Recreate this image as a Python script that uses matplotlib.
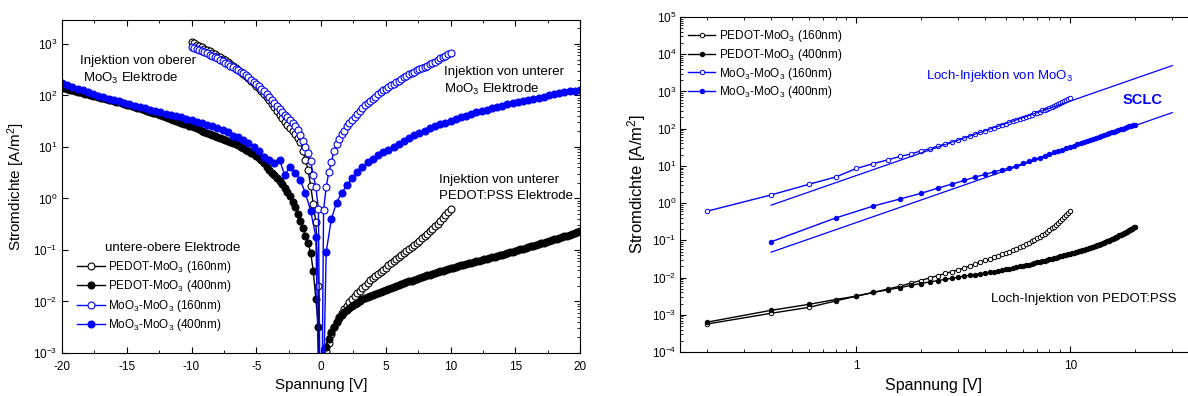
import numpy as np
import matplotlib
matplotlib.use("Agg")
import matplotlib.pyplot as plt
from matplotlib.ticker import LogLocator, NullFormatter, FormatStrFormatter, MultipleLocator

plt.rcParams['font.family'] = ['Liberation Sans', 'DejaVu Sans']
plt.rcParams['mathtext.fontset'] = 'custom'
plt.rcParams['mathtext.rm'] = 'Liberation Sans'
plt.rcParams['mathtext.it'] = 'Liberation Sans:italic'
plt.rcParams['mathtext.bf'] = 'Liberation Sans:bold'
plt.rcParams['mathtext.default'] = 'regular'
plt.rcParams['axes.unicode_minus'] = False

BLUE = '#0000ff'

# voltage sweeps [V]; 160nm devices +-10 V in 0.2 V steps,
# PEDOT 400nm +-20 V in 0.2 V, MoO3 400nm +-20 V in 0.4 V
v_pedot160 = np.linspace(-10, 10, 101)
v_pedot400 = np.linspace(-20, 20, 201)
v_moo160 = np.linspace(-10, 10, 101)
v_moo400 = np.linspace(-20, 20, 101)

# log10 of current density [A/m^2]; value at 0 V is below the plotted range
zero_log = -6.0

pedot160_neg = [3.04, 3.02, 2.99, 2.96, 2.94, 2.91, 2.88, 2.86, 2.83, 2.80,
                2.77, 2.74, 2.71, 2.68, 2.645, 2.61, 2.575, 2.54, 2.50, 2.46,
                2.42, 2.38, 2.34, 2.29, 2.24, 2.19, 2.14, 2.09, 2.03, 1.97,
                1.91, 1.84, 1.77, 1.70, 1.63, 1.56, 1.49, 1.43, 1.37, 1.31,
                1.25, 1.18, 1.10, 0.92, 0.75, 0.55, 0.25, -0.10, -0.45, -1.70]
pedot160_pos = [-3.25, -2.96, -2.80, -2.63, -2.50, -2.40, -2.31, -2.23, -2.15, -2.08,
                -2.01, -1.95, -1.89, -1.84, -1.79, -1.74, -1.69, -1.64, -1.59, -1.54,
                -1.50, -1.46, -1.42, -1.38, -1.34, -1.30, -1.26, -1.22, -1.18, -1.14,
                -1.10, -1.06, -1.02, -0.98, -0.94, -0.90, -0.86, -0.82, -0.77, -0.73,
                -0.68, -0.64, -0.59, -0.54, -0.49, -0.44, -0.38, -0.32, -0.26, -0.20]

pedot400_neg = [2.150, 2.138, 2.126, 2.113, 2.100, 2.088, 2.076, 2.063, 2.050, 2.038,
                2.025, 2.012, 1.999, 1.986, 1.973, 1.960, 1.947, 1.934, 1.920, 1.907,
                1.893, 1.879, 1.865, 1.851, 1.837, 1.822, 1.808, 1.793, 1.778, 1.763,
                1.748, 1.733, 1.717, 1.701, 1.685, 1.669, 1.653, 1.636, 1.619, 1.602,
                1.585, 1.567, 1.549, 1.531, 1.513, 1.494, 1.475, 1.456, 1.437, 1.417,
                1.40, 1.38, 1.36, 1.34, 1.32, 1.30, 1.28, 1.26, 1.24, 1.22,
                1.20, 1.18, 1.16, 1.14, 1.12, 1.10, 1.08, 1.055, 1.03, 1.005,
                0.98, 0.95, 0.92, 0.89, 0.86, 0.82, 0.78, 0.74, 0.68, 0.62,
                0.55, 0.50, 0.45, 0.40, 0.34, 0.28, 0.21, 0.13, 0.04, -0.06,
                -0.17, -0.30, -0.43, -0.58, -0.72, -0.86, -1.05, -1.40, -1.95, -2.50]
pedot400_pos = [-3.20, -2.88, -2.72, -2.59, -2.50, -2.40, -2.33, -2.27, -2.21, -2.16,
                -2.12, -2.08, -2.05, -2.02, -1.99, -1.96, -1.94, -1.92, -1.90, -1.88,
                -1.86, -1.84, -1.82, -1.80, -1.78, -1.76, -1.74, -1.72, -1.70, -1.68,
                -1.665, -1.65, -1.63, -1.61, -1.595, -1.58, -1.56, -1.545, -1.53, -1.51,
                -1.495, -1.48, -1.465, -1.45, -1.43, -1.415, -1.40, -1.385, -1.37, -1.355,
                -1.34, -1.33, -1.315, -1.30, -1.29, -1.275, -1.26, -1.25, -1.235, -1.22,
                -1.21, -1.195, -1.18, -1.17, -1.155, -1.14, -1.13, -1.115, -1.10, -1.09,
                -1.075, -1.06, -1.045, -1.03, -1.02, -1.005, -0.99, -0.975, -0.96, -0.945,
                -0.93, -0.915, -0.90, -0.885, -0.87, -0.855, -0.84, -0.825, -0.81, -0.795,
                -0.78, -0.765, -0.75, -0.735, -0.72, -0.705, -0.69, -0.67, -0.65, -0.63]

moo160_neg = [2.95, 2.93, 2.91, 2.89, 2.865, 2.845, 2.82, 2.795, 2.77, 2.745,
              2.72, 2.69, 2.665, 2.64, 2.61, 2.58, 2.55, 2.52, 2.49, 2.46,
              2.43, 2.39, 2.35, 2.31, 2.27, 2.23, 2.18, 2.13, 2.08, 2.03,
              1.98, 1.92, 1.86, 1.80, 1.73, 1.68, 1.63, 1.58, 1.53, 1.47,
              1.41, 1.33, 1.23, 1.12, 1.00, 0.88, 0.72, 0.46, 0.22, -0.20]
moo160_pos = [-0.22, 0.22, 0.505, 0.70, 0.93, 1.06, 1.16, 1.255, 1.32, 1.40,
              1.46, 1.53, 1.59, 1.64, 1.70, 1.756, 1.806, 1.85, 1.90, 1.94,
              1.98, 2.02, 2.06, 2.10, 2.13, 2.17, 2.20, 2.23, 2.265, 2.29,
              2.32, 2.35, 2.38, 2.41, 2.43, 2.46, 2.49, 2.51, 2.535, 2.56,
              2.58, 2.61, 2.63, 2.66, 2.69, 2.72, 2.74, 2.77, 2.80, 2.83]

moo400_neg = [2.24, 2.205, 2.17, 2.135, 2.10, 2.065, 2.03, 1.995, 1.965, 1.94,
              1.91, 1.885, 1.86, 1.83, 1.805, 1.78, 1.75, 1.725, 1.70, 1.675,
              1.65, 1.625, 1.60, 1.575, 1.55, 1.52, 1.49, 1.46, 1.43, 1.40,
              1.365, 1.33, 1.29, 1.22, 1.20, 1.13, 1.07, 1.00, 0.92, 0.81,
              0.74, 0.69, 0.75, 0.45, 0.62, 0.50, 0.36, 0.10, -0.24, -0.74]
moo400_pos = [-1.04, -0.40, -0.08, 0.11, 0.26, 0.40, 0.51, 0.61, 0.70, 0.77,
              0.84, 0.895, 0.945, 1.00, 1.065, 1.12, 1.175, 1.225, 1.27, 1.315,
              1.36, 1.40, 1.44, 1.475, 1.51, 1.545, 1.58, 1.61, 1.64, 1.67,
              1.70, 1.725, 1.75, 1.78, 1.805, 1.83, 1.85, 1.875, 1.90, 1.92,
              1.94, 1.96, 1.98, 2.00, 2.02, 2.04, 2.06, 2.08, 2.095, 2.11]

# SCLC fits (J ~ V^2), end points
fit_v = [0.4, 30.0]
fit_high = [0.88, 4950.0]
fit_low = [0.048, 270.0]

labels = ['PEDOT-MoO$_3$ (160nm)', 'PEDOT-MoO$_3$ (400nm)',
          'MoO$_3$-MoO$_3$ (160nm)', 'MoO$_3$-MoO$_3$ (400nm)']

series = [
    (v_pedot160, pedot160_neg + [zero_log] + pedot160_pos, 'k', 'white'),
    (v_pedot400, pedot400_neg + [zero_log] + pedot400_pos, 'k', 'k'),
    (v_moo160, moo160_neg + [zero_log] + moo160_pos, BLUE, 'white'),
    (v_moo400, moo400_neg + [zero_log] + moo400_pos, BLUE, BLUE),
]

fig = plt.figure(figsize=(11.88, 3.96), dpi=100)
ax1 = fig.add_axes([62 / 1188, 43 / 396, 518 / 1188, 333 / 396])
ax2 = fig.add_axes([680 / 1188, 44 / 396, 519 / 1188, 335 / 396])

# left: full sweep, linear voltage
for (v, lj, c, face), lab in zip(series, labels):
    ax1.plot(v, 10.0 ** np.array(lj), '-o', color=c, mfc=face, mec=c,
             ms=5, mew=0.8, lw=1.0, label=lab)

ax1.set_yscale('log')
ax1.set_xlim(-20, 20)
ax1.set_ylim(1e-3, 10 ** 3.466)
ax1.xaxis.set_major_locator(MultipleLocator(5))
ax1.xaxis.set_minor_locator(MultipleLocator(2.5))
ax1.yaxis.set_major_locator(LogLocator(base=10, numticks=20))
ax1.yaxis.set_minor_locator(LogLocator(base=10, subs=np.arange(2, 10), numticks=100))
ax1.yaxis.set_minor_formatter(NullFormatter())
ax1.tick_params(which='both', direction='in', top=True, right=True, labelsize=8.5)
ax1.tick_params(which='major', length=4, width=0.8)
ax1.tick_params(which='minor', length=2, width=0.6)
ax1.tick_params(axis='y', which='minor', left=False)
ax1.tick_params(axis='x', pad=6)

ax1.set_xlabel('Spannung [V]', fontsize=11)
ax1.set_ylabel('Stromdichte [A/m$^2$]', fontsize=11)
ax1.xaxis.set_label_coords(0.5, -0.074)
ax1.yaxis.set_label_coords(-0.068, 0.5)

ax1.text(0.035, 0.877, 'Injektion von oberer', transform=ax1.transAxes, fontsize=9.5, va='center')
ax1.text(0.0405, 0.823, 'MoO$_3$ Elektrode', transform=ax1.transAxes, fontsize=9.5, va='center')
ax1.text(0.737, 0.844, 'Injektion von unterer', transform=ax1.transAxes, fontsize=9.5, va='center')
ax1.text(0.737, 0.792, 'MoO$_3$ Elektrode', transform=ax1.transAxes, fontsize=9.5, va='center')
ax1.text(0.728, 0.520, 'Injektion von unterer', transform=ax1.transAxes, fontsize=9.5, va='center')
ax1.text(0.728, 0.471, 'PEDOT:PSS Elektrode', transform=ax1.transAxes, fontsize=9.5, va='center')
ax1.text(0.083, 0.315, 'untere-obere Elektrode', transform=ax1.transAxes, fontsize=9.5, va='center')

ax1.legend(loc='upper left', bbox_to_anchor=(0.029, 0.282), frameon=False, fontsize=8.5,
           handlelength=2.4, handletextpad=0.2, labelspacing=0.28,
           borderpad=0, borderaxespad=0, numpoints=1)

# right: positive branch, log-log with SCLC fits
for (v, lj, c, face), lab in zip(series, labels):
    v = np.asarray(v)
    j = 10.0 ** np.array(lj)
    pos = v > 0
    ax2.plot(v[pos], j[pos], '-o', color=c, mfc=face, mec=c,
             ms=3.2, mew=0.7, lw=1.0, label=lab)

ax2.plot(fit_v, fit_high, color=BLUE, lw=0.9)
ax2.plot(fit_v, fit_low, color=BLUE, lw=0.9)

ax2.set_xscale('log')
ax2.set_yscale('log')
ax2.set_xlim(0.15, 40)
ax2.set_ylim(1e-4, 1e5)
ax2.xaxis.set_major_locator(LogLocator(base=10, numticks=10))
ax2.xaxis.set_minor_locator(LogLocator(base=10, subs=np.arange(2, 10), numticks=100))
ax2.xaxis.set_major_formatter(FormatStrFormatter('%g'))
ax2.xaxis.set_minor_formatter(NullFormatter())
ax2.yaxis.set_major_locator(LogLocator(base=10, numticks=20))
ax2.yaxis.set_minor_locator(LogLocator(base=10, subs=np.arange(2, 10), numticks=100))
ax2.yaxis.set_minor_formatter(NullFormatter())
ax2.tick_params(which='both', direction='in', top=True, right=True, labelsize=8.5)
ax2.tick_params(which='major', length=4, width=0.8)
ax2.tick_params(which='minor', length=2, width=0.6)
ax2.tick_params(axis='x', pad=6)
ax2.tick_params(axis='y', pad=2.5)

ax2.set_xlabel('Spannung [V]', fontsize=11.5)
ax2.set_ylabel('Stromdichte [A/m$^2$]', fontsize=12)
ax2.xaxis.set_label_coords(0.489, -0.078)
ax2.yaxis.set_label_coords(-0.062, 0.5)

ax2.text(0.474, 0.824, 'Loch-Injektion von MoO$_3$', transform=ax2.transAxes,
         fontsize=9.5, color=BLUE, va='center')
ax2.text(0.852, 0.752, 'SCLC', transform=ax2.transAxes, fontsize=10.5,
         fontweight='bold', color=BLUE, va='center')
ax2.text(0.599, 0.158, 'Loch-Injektion von PEDOT:PSS', transform=ax2.transAxes,
         fontsize=9.5, va='center')

ax2.legend(loc='upper left', bbox_to_anchor=(0.0154, 0.966), frameon=False, fontsize=8.5,
           handlelength=2.3, handletextpad=0.35, labelspacing=0.22,
           borderpad=0, borderaxespad=0, numpoints=1)

fig.savefig('out.png', dpi=100)
